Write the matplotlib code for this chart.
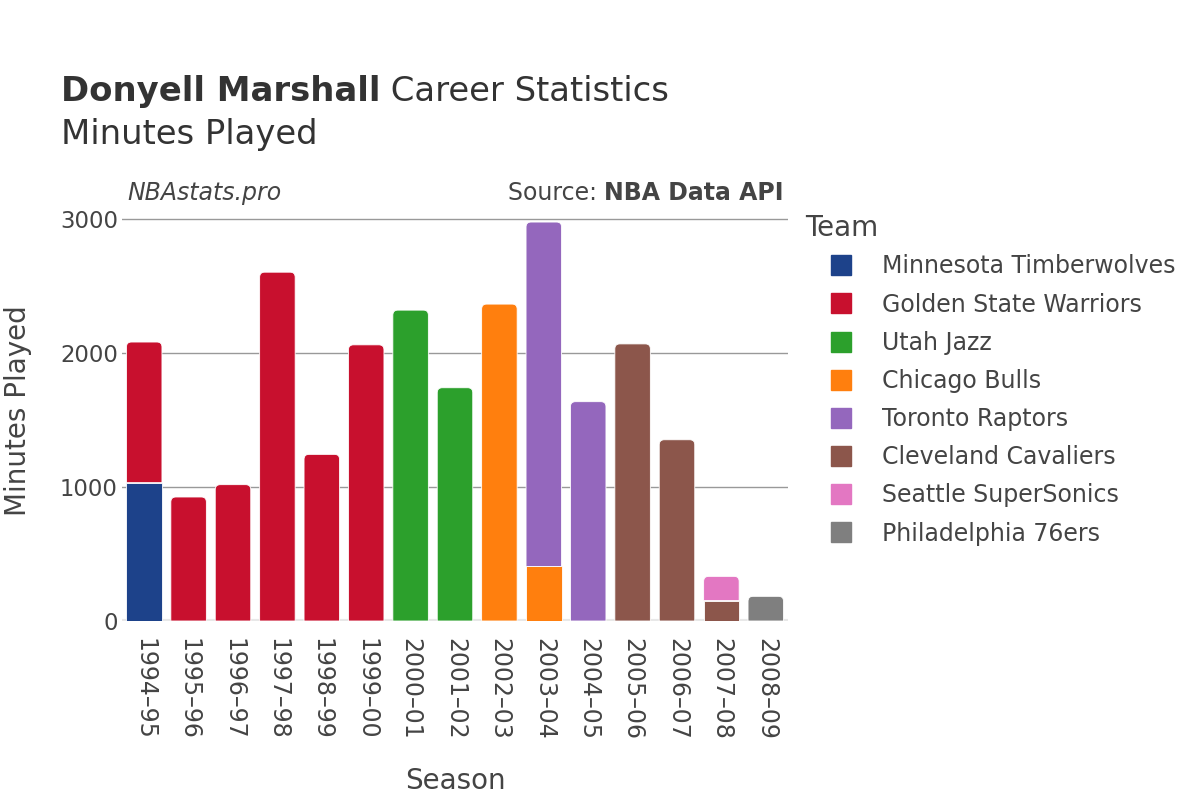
import matplotlib
matplotlib.use('Agg')
import matplotlib.pyplot as plt
from matplotlib.path import Path
from matplotlib.patches import PathPatch
from matplotlib.lines import Line2D
import numpy as np

seasons = ['1994–95','1995–96','1996–97','1997–98','1998–99','1999–00','2000–01',
           '2001–02','2002–03','2003–04','2004–05','2005–06','2006–07','2007–08','2008–09']
teams = ['Minnesota Timberwolves','Golden State Warriors','Utah Jazz','Chicago Bulls',
         'Toronto Raptors','Cleveland Cavaliers','Seattle SuperSonics','Philadelphia 76ers']
colors = ['#1d428a','#c8102e','#2ca02c','#ff7f0e','#9467bd','#8c564b','#e377c2','#7f7f7f']

# minutes per team, one value per season (0 = not on team)
min_wolves  = [1032,0,0,0,0,0,0,0,0,0,0,0,0,0,0]
min_warriors= [1049,925,1017,2602,1243,2060,0,0,0,0,0,0,0,0,0]
min_jazz    = [0,0,0,0,0,0,2319,1740,0,0,0,0,0,0,0]
min_bulls   = [0,0,0,0,0,0,0,0,2364,407,0,0,0,0,0]
min_raptors = [0,0,0,0,0,0,0,0,0,2569,1636,0,0,0,0]
min_cavs    = [0,0,0,0,0,0,0,0,0,0,0,2067,1352,152,0]
min_sonics  = [0,0,0,0,0,0,0,0,0,0,0,0,0,181,0]
min_sixers  = [0,0,0,0,0,0,0,0,0,0,0,0,0,0,184]
minutes = [min_wolves,min_warriors,min_jazz,min_bulls,min_raptors,min_cavs,min_sonics,min_sixers]

W, H = 1200, 800
fig = plt.figure(figsize=(12, 8), dpi=100)
ax_l, ax_r, ax_b, ax_t = 122, 788, 621, 201
ax = fig.add_axes([ax_l/W, 1-ax_b/H, (ax_r-ax_l)/W, (ax_b-ax_t)/H])
ymax = 3133
ax.set_xlim(-0.5, len(seasons)-0.5)
ax.set_ylim(0, ymax)

# px per data unit, for rounded corners
pxx = (ax_r-ax_l)/len(seasons)
pxy = (ax_b-ax_t)/ymax
rad = 5
rx, ry = rad/pxx, rad/pxy
bw = 0.8

def bar_patch(x, y0, h, color, rounded):
    x0, x1, y1 = x-bw/2, x+bw/2, y0+h
    if rounded:
        r_y = min(ry, h)
        verts = [(x0,y0),(x0,y1-r_y),(x0,y1),(x0+rx,y1),(x1-rx,y1),(x1,y1),(x1,y1-r_y),(x1,y0),(x0,y0)]
        codes = [Path.MOVETO,Path.LINETO,Path.CURVE3,Path.CURVE3,Path.LINETO,
                 Path.CURVE3,Path.CURVE3,Path.LINETO,Path.CLOSEPOLY]
    else:
        verts = [(x0,y0),(x0,y1),(x1,y1),(x1,y0),(x0,y0)]
        codes = [Path.MOVETO,Path.LINETO,Path.LINETO,Path.LINETO,Path.CLOSEPOLY]
    ax.add_patch(PathPatch(Path(verts, codes), facecolor=color, edgecolor='white',
                           linewidth=0.6, zorder=3))

for i in range(len(seasons)):
    segs = [(minutes[t][i], colors[t]) for t in range(len(teams)) if minutes[t][i] > 0]
    base = 0
    for k, (v, c) in enumerate(segs):
        bar_patch(i, base, v, c, k == len(segs)-1)
        base += v

ax.set_yticks([0, 1000, 2000, 3000])
ax.grid(axis='y', color='#999999', linewidth=1, zorder=0)
ax.axhline(0, color='#e8e8e8', linewidth=3, zorder=2)
for s in ax.spines.values():
    s.set_visible(False)
ax.tick_params(axis='y', length=0, labelsize=16.4, colors='#444444', pad=3)
ax.tick_params(axis='x', length=0, labelsize=17, colors='#444444', pad=12)
ax.set_xticks(range(len(seasons)))
ax.set_xticklabels(seasons, rotation=-90, va='top', ha='center', fontsize=17)
ax.set_xlabel('Season', fontsize=20, color='#444444', labelpad=20)
ax.set_ylabel('Minutes Played', fontsize=20, color='#444444', labelpad=20)

# titles
fig.canvas.draw()
t1 = fig.text(61/W, 1-101/H, 'Donyell Marshall', fontsize=24.4, fontweight='bold', color='#333333')
fig.canvas.draw()
bb = t1.get_window_extent()
fig.text(bb.x1/W, 1-101/H, ' Career Statistics', fontsize=24.4, color='#333333')
fig.text(61/W, 1-144/H, 'Minutes Played', fontsize=24.4, color='#333333')
fig.text(127/W, 1-200/H, 'NBAstats.pro', fontsize=17, style='italic', color='#444444')
t2 = fig.text(784/W, 1-200/H, 'NBA Data API', fontsize=17, fontweight='bold', color='#444444', ha='right')
fig.canvas.draw()
bb2 = t2.get_window_extent()
fig.text(bb2.x0/W, 1-200/H, 'Source: ', fontsize=17, color='#444444', ha='right')

fig.text(805/W, 1-236/H, 'Team', fontsize=20, color='#444444')
handles = [Line2D([], [], marker='s', linestyle='none', markersize=15,
                  markerfacecolor=c, markeredgecolor=c) for c in colors]
leg = fig.legend(handles, teams, loc='upper left', bbox_to_anchor=(808/W, 1-245/H),
                 frameon=False, fontsize=17, labelspacing=0.6, handlelength=2.0,
                 handletextpad=0.72, borderaxespad=0)
for txt in leg.get_texts():
    txt.set_color('#444444')

fig.savefig('out.png', dpi=100)
